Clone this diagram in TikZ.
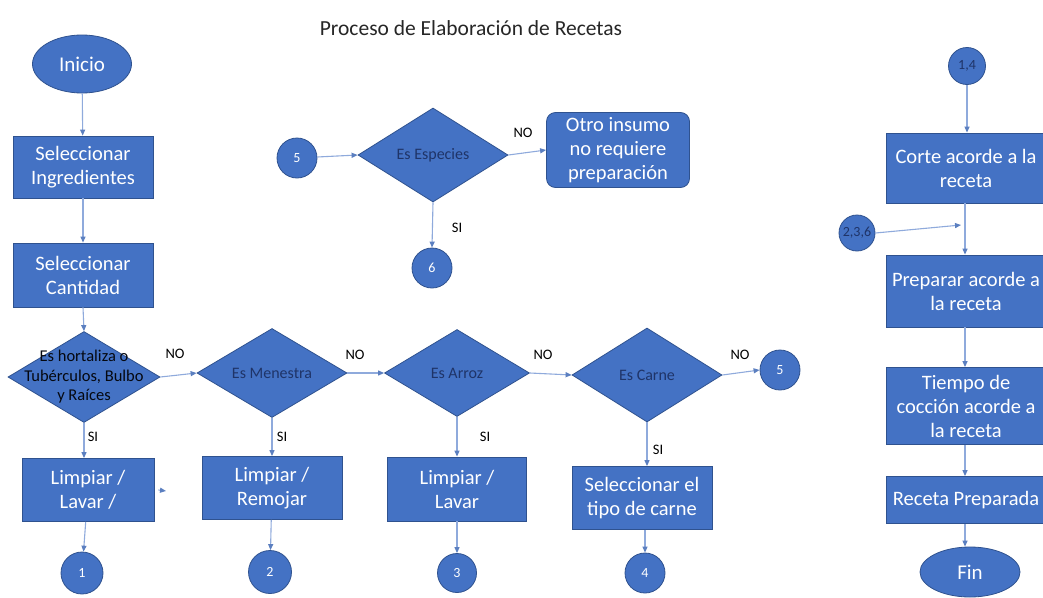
\documentclass[tikz,border=0pt]{standalone}
\usepackage{fontspec}
\setmainfont{Carlito}
\usetikzlibrary{shapes.geometric,arrows.meta}
\definecolor{boxblue}{HTML}{4472C4}
\definecolor{boxedge}{HTML}{2F528F}
\definecolor{linkblue}{HTML}{8FAADC}
\definecolor{tipblue}{HTML}{5B7FC0}
\definecolor{darktext}{HTML}{1F3468}
\tikzset{
  procbox/.style={rectangle, fill=boxblue, draw=boxedge, line width=0.8pt,
    minimum width=140pt, minimum height=63pt, inner sep=2pt, align=center,
    text=white, font=\fontsize{20.5}{24}\selectfont},
  dia/.style={diamond, fill=boxblue, draw=boxedge, line width=0.8pt,
    inner sep=0pt, minimum width=150pt, minimum height=90pt},
  diatext/.style={align=center, text=darktext, inner sep=0pt,
    font=\fontsize{16}{19.5}\selectfont},
  conn/.style={circle, fill=boxblue, draw=boxedge, line width=0.8pt,
    inner sep=0pt, minimum size=#1, text=white,
    font=\fontsize{14}{16}\selectfont},
  terminal/.style={ellipse, fill=boxblue, draw=boxedge, line width=0.8pt,
    inner sep=0pt, text=white, font=\fontsize{21}{24}\selectfont},
  arr/.style={draw=linkblue, line width=1.1pt,
    -{Triangle[length=6pt,width=5pt,color=tipblue]}},
  yesno/.style={text=black, inner sep=0pt, font=\fontsize{14.5}{16}\selectfont},
}
\begin{document}
\begin{tikzpicture}[x=1pt,y=-1pt]
\clip (0,0) rectangle (1043,597);
\fill[white] (0,0) rectangle (1043,597);

% title
\node[text=black!85, font=\fontsize{21.5}{24}\selectfont] (title) at (471,28)
  {Proceso de Elaboración de Recetas};

% left column
\node[terminal, minimum width=99pt, minimum height=58pt] (ini) at (82,64) {Inicio};
\node[procbox, minimum height=62pt] (sel1) at (83,167) {Seleccionar\\Ingredientes};
\node[procbox, minimum height=64pt] (sel2) at (83,275) {Seleccionar\\Cantidad};

% row of decisions
\node[dia, minimum width=152pt, minimum height=91pt] (d1) at (84,377) {};
\node[diatext, font=\fontsize{16.5}{19.5}\selectfont, text=black!85!darktext] (d1t) at (d1)
  {Es hortaliza o\\Tubérculos, Bulbo\\y Raíces};
\node[dia, minimum width=150pt, minimum height=89pt] (d2) at (272,373) {};
\node[diatext] (d2t) at (d2) {Es Menestra};
\node[dia, minimum width=145pt, minimum height=87pt] (d3) at (457,373) {};
\node[diatext] (d3t) at (d3) {Es Arroz};
\node[dia, minimum width=150pt, minimum height=94pt] (d4) at (647,375) {};
\node[diatext] (d4t) at (d4) {Es Carne};
\node[conn=40pt] (c5b) at (780,370) {5};

% actions under the decisions
\node[procbox, minimum width=132pt] (b1) at (88,490) {Limpiar /\\Lavar /};
\node[procbox] (b2) at (272,488) {Limpiar /\\Remojar};
\node[procbox, minimum width=139pt, minimum height=64pt] (b3) at (457,489) {Limpiar /\\Lavar};
\node[procbox] (b4) at (642,498) {Seleccionar el\\tipo de carne};
\coordinate (stub) at (166,491);

% off-page connectors
\node[conn=42pt] (c1) at (82,573) {1};
\node[conn=43pt] (c2) at (270,572) {2};
\node[conn=39pt] (c3) at (457,573) {3};
\node[conn=40pt] (c4) at (645,573) {4};

% spices branch
\node[conn=40pt] (c5) at (297,158) {5};
\node[dia, minimum width=150pt, minimum height=94pt] (d5) at (433,155) {};
\node[diatext] (d5t) at (d5) {Es Especies};
\node[procbox, rounded corners=9pt, minimum width=143pt, minimum height=75pt] (otro)
  at (618,150) {Otro insumo\\no requiere\\preparación};
\node[conn=40pt] (c6) at (432,268) {6};

% right column
\node[conn=37pt, text=darktext] (c14) at (967,66) {1,4};
\node[procbox, minimum width=160pt, minimum height=70pt] (corte) at (966,168)
  {Corte acorde a la\\receta};
\node[conn=36pt, text=darktext] (c236) at (857,233) {2,3,6};
\coordinate (join) at (961,225);
\node[procbox, minimum width=160pt, minimum height=72pt] (prep) at (966,291)
  {Preparar acorde a\\la receta};
\node[procbox, minimum width=160pt, minimum height=77pt] (tiempo) at (966,406)
  {Tiempo de\\cocción acorde a\\la receta};
\node[procbox, minimum width=160pt, minimum height=47pt] (receta) at (966,500)
  {Receta Preparada};
\node[terminal, minimum width=100pt, minimum height=50pt] (fin) at (970,572) {Fin};

% connectors, left column
\draw[arr] (ini) -- (sel1);
\draw[arr] (sel1) -- (sel2);
\draw[arr] (sel2.south) -- (d1.north);
\draw[arr] (d1.south) -- (b1.north -| d1.south);
\draw[arr] (b1) -- (c1);
\draw[arr] ([xshift=4pt]b1.east) -- (stub);

% connectors along the decision row
\draw[arr] (d1.east) -- (d2.west);
\draw[arr] (d2.east) -- (d3.west);
\draw[arr] (d3.east) -- (d4.west);
\draw[arr] (d4.east) -- (c5b.west);
\draw[arr] (d2) -- (b2);
\draw[arr] (b2) -- (c2);
\draw[arr] (d3) -- (b3);
\draw[arr] (b3) -- (c3);
\draw[arr] (d4.south) -- (b4.north -| d4.south);
\draw[arr] (b4.south -| c4) -- (c4);

% connectors, spices branch
\draw[arr] (c5) -- (d5.west);
\draw[arr] (d5.east) -- (otro.west);
\draw[arr] (d5.south) -- (c6.north);

% connectors, right column
\draw[arr] (c14.south) -- (corte.north -| c14.south);
\draw[arr] (c236.east) -- (join);
\draw[arr] (corte.south -| 965,0) -- (prep.north -| 965,0);
\draw[arr] (prep.south -| 965,0) -- (tiempo.north -| 965,0);
\draw[arr] (tiempo.south -| 965,0) -- (receta.north -| 965,0);
\draw[arr] (receta.south -| 965,0) -- (fin.north -| 965,0);

% branch labels
\node[yesno] (no1) at (175,354) {NO};
\node[yesno] (no2) at (355,355) {NO};
\node[yesno] (no3) at (543,355) {NO};
\node[yesno] (no4) at (740,355) {NO};
\node[yesno] (no5) at (523,133) {NO};
\node[yesno] (si1) at (93,437) {SI};
\node[yesno] (si2) at (282,437) {SI};
\node[yesno] (si3) at (485,437) {SI};
\node[yesno] (si4) at (658,450) {SI};
\node[yesno] (si5) at (457,228) {SI};
\end{tikzpicture}
\end{document}
